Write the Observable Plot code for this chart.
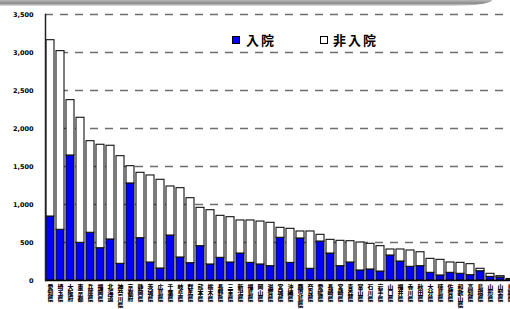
<!DOCTYPE html>
<html><head><meta charset="utf-8">
<script src="https://cdn.jsdelivr.net/npm/d3@7"></script>
<script src="https://cdn.jsdelivr.net/npm/@observablehq/plot@0.6"></script>
<style>
body{margin:0;background:#fff;}
#wrap{position:relative;width:510px;height:309px;overflow:hidden;font-family:"Noto Sans CJK JP","DejaVu Sans",sans-serif;}
#banner{position:absolute;left:0;top:0;width:492px;height:6px;background:linear-gradient(to bottom,#b8b8b8,#8a8a8a 55%,#e6e6e6);border-bottom-right-radius:40px 6px;z-index:0;}
#chart{position:relative;z-index:1;}
.lg{position:absolute;top:32px;font-size:13px;font-weight:bold;letter-spacing:2px;color:#000;line-height:16px;z-index:2;}
.sw{position:absolute;top:36px;width:8px;height:8px;border:1px solid #000;box-sizing:border-box;z-index:2;}
</style></head>
<body>
<div id="wrap">
<div id="banner"></div>
<div id="chart"></div>
<div class="sw" style="left:232px;background:#0000ff;"></div>
<div class="lg" style="left:246px;">入院</div>
<div class="sw" style="left:320px;background:#fff;"></div>
<div class="lg" style="left:333px;">非入院</div>
</div>
<script>
const prefectures = ["愛知県","埼玉県","大阪府","東京都","兵庫県","福岡県","北海道","神奈川県","京都府","静岡県","茨城県","広島県","千葉県","岐阜県","群馬県","熊本県","栃木県","長野県","三重県","新潟県","福島県","岡山県","滋賀県","宮城県","沖縄県","鹿児島県","奈良県","愛媛県","長崎県","宮崎県","青森県","富山県","石川県","岩手県","山口県","福井県","香川県","秋田県","大分県","徳島県","佐賀県","和歌山県","高知県","島根県","山形県","山梨県","鳥取県"];
const inpatient = [842,667,1645,496,628,425,540,219,1277,557,237,158,592,303,228,452,211,298,237,355,232,211,189,562,232,553,154,513,355,189,237,132,145,118,329,250,180,189,101,66,101,88,70,122,48,39,5];
const nonInpatient = [2320,2351,728,1645,1205,1361,1233,1417,227,860,1145,1167,645,912,855,504,714,553,596,435,558,565,570,131,448,92,491,88,180,333,280,368,338,334,79,158,215,183,184,206,136,144,145,32,40,18,15];
const seriesNames = ["入院","非入院"];
const yTicks = [0,500,1000,1500,2000,2500,3000,3500];

const rows = [];
prefectures.forEach((p,i)=>{
  rows.push({pref:p, type:seriesNames[0], value:inpatient[i]});
  rows.push({pref:p, type:seriesNames[1], value:nonInpatient[i]});
});
const chars = prefectures.flatMap(p => [...p].map((ch,k)=>({pref:p, ch, k})));
const charMarks = [0,1,2,3].map(k => Plot.text(chars.filter(c=>c.k===k), {
  x:"pref", text:"ch", frameAnchor:"bottom", lineAnchor:"top", dy:4 + k*6.1,
  fontSize:5.9, fontWeight:900, fill:"#000", fontFamily:"'Noto Sans CJK JP', sans-serif"
}));

const chart = Plot.plot({
  width:510, height:309,
  marginLeft:45, marginRight:0, marginTop:14, marginBottom:29,
  style:{fontFamily:"'DejaVu Sans', sans-serif", background:"transparent", overflow:"visible"},
  x:{type:"band", domain:prefectures, range:[45,514.5], paddingInner:0.25, paddingOuter:0.1, axis:null},
  y:{domain:[0,3500], axis:null, label:null},
  color:{domain:seriesNames, range:["#0000ff","#ffffff"]},
  marks:[
    Plot.ruleY(yTicks.filter(d=>d>0), {stroke:"#6e6e6e", strokeWidth:1.5, strokeDasharray:"8,7"}),
    Plot.barY(rows, Plot.stackY({x:"pref", y:"value", fill:"type", order:seriesNames, stroke:"#111", strokeWidth:1.1, inset:0})),
    Plot.ruleY([0], {stroke:"#000", strokeWidth:1.5}),
    Plot.frame({anchor:"left", stroke:"#222", strokeWidth:1.5}),
    Plot.axisY({ticks:yTicks, tickFormat:d3.format(","), label:null, tickSize:0, tickPadding:12, fontSize:6.5, fontWeight:900, fontFamily:"'DejaVu Sans', sans-serif"}),
    ...charMarks
  ]
});
document.getElementById("chart").appendChild(chart);
</script>
</body></html>
